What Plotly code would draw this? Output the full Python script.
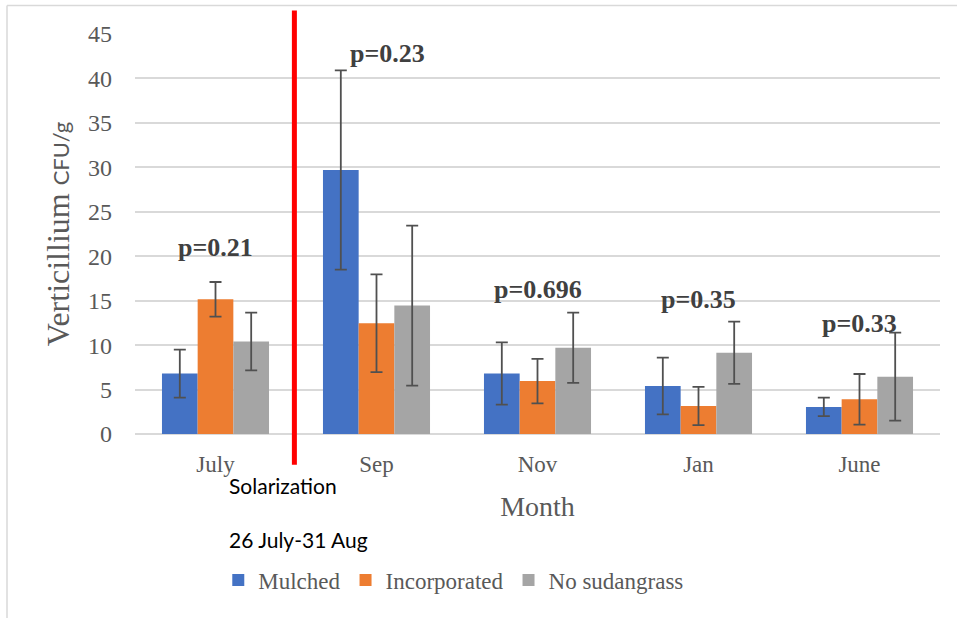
import plotly.graph_objects as go

months = ["July", "Sep", "Nov", "Jan", "June"]
series_names = ["Mulched", "Incorporated", "No sudangrass"]
mulched = [6.8, 29.7, 6.8, 5.4, 3.05]
mulched_err = [2.7, 11.2, 3.5, 3.2, 1.05]
incorporated = [15.15, 12.45, 5.95, 3.15, 3.9]
incorporated_err = [1.95, 5.5, 2.5, 2.15, 2.85]
no_sudangrass = [10.4, 14.45, 9.7, 9.15, 6.45]
no_sudangrass_err = [3.25, 9.0, 3.95, 3.5, 4.95]
colors = ["#4472C4", "#ED7D31", "#A5A5A5"]
p_labels = ["p=0.21", "p=0.23", "p=0.696", "p=0.35", "p=0.33"]
p_y = [21.0, 42.8, 16.3, 15.1, 12.4]
p_xshift = [0, 11, 0, 0, 0]

values = [mulched, incorporated, no_sudangrass]
errors = [mulched_err, incorporated_err, no_sudangrass_err]

fig = go.Figure()
for name, vals, errs, col in zip(series_names, values, errors, colors):
    fig.add_trace(go.Bar(
        x=months, y=vals, name=name,
        marker=dict(color=col, line=dict(width=0)),
        error_y=dict(type="data", array=errs, visible=True,
                     color="#505050", thickness=1.8, width=6),
    ))

serif = "Liberation Serif, Times New Roman, serif"
annotations = []
for m, t, yv, xs in zip(months, p_labels, p_y, p_xshift):
    annotations.append(dict(x=m, y=yv, xref="x", yref="y", text="<b>" + t + "</b>",
                            showarrow=False, xshift=xs,
                            font=dict(family=serif, size=26, color="#404040")))
annotations += [
    dict(x=0.1143, y=-0.1275, xref="paper", yref="paper", text="Solarization",
         xanchor="left", yanchor="middle", showarrow=False,
         font=dict(family="Lato, Carlito, sans-serif", size=21, color="#000000")),
    dict(x=0.1143, y=-0.2625, xref="paper", yref="paper", text="26 July-31 Aug",
         xanchor="left", yanchor="middle", showarrow=False,
         font=dict(family="Lato, Carlito, sans-serif", size=21, color="#000000")),
]

shapes = [
    dict(type="line", xref="x", yref="paper", x0=0.49, x1=0.49, y0=-0.077, y1=1.059,
         line=dict(color="#FF0000", width=5)),
    dict(type="line", xref="paper", yref="paper", x0=-0.159, x1=1.03, y0=1.071, y1=1.071,
         line=dict(color="#D9D9D9", width=1.5)),
    dict(type="line", xref="paper", yref="paper", x0=-0.159, x1=-0.159, y0=1.071, y1=-0.46,
         line=dict(color="#D9D9D9", width=1.5)),
]

fig.update_layout(
    width=957, height=618,
    margin=dict(l=135, r=17, t=34, b=184),
    paper_bgcolor="white", plot_bgcolor="white",
    barmode="group", bargap=0.335, bargroupgap=0,
    font=dict(family=serif, color="#595959"),
    showlegend=True,
    legend=dict(orientation="h", x=0.396, xanchor="center", y=-0.365, yanchor="middle",
                font=dict(family=serif, size=23, color="#595959"),
                itemsizing="constant", traceorder="normal"),
    xaxis=dict(showgrid=False, showline=False, ticks="", ticklabelstandoff=14,
               tickfont=dict(family=serif, size=23, color="#595959"),
               title=dict(text="Month", font=dict(family=serif, size=28, color="#595959"),
                          standoff=20)),
    yaxis=dict(range=[0, 45], dtick=5, showgrid=True, gridcolor="#D9D9D9", gridwidth=1.6,
               zeroline=True, zerolinecolor="#D9D9D9", zerolinewidth=1.6,
               showline=False, ticks="", ticklabelstandoff=22,
               tickfont=dict(family=serif, size=24, color="#595959"),
               title=dict(text="Verticillium <span style='font-family:Lato, Carlito, sans-serif;font-size:22px'>CFU/g</span>",
                          font=dict(family=serif, size=32, color="#595959"),
                          standoff=8)),
    annotations=annotations,
    shapes=shapes,
)

fig.write_html("out.html", config={"displayModeBar": False},
               post_script="document.body.style.margin='0';")
